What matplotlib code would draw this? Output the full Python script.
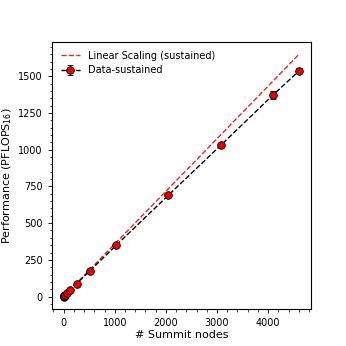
import numpy as np
import matplotlib
matplotlib.use("Agg")
from matplotlib import pyplot as plt
from matplotlib.ticker import AutoMinorLocator

# Summit node counts and sustained performance (PFLOPS, fp16)
nodes = [1, 2, 4, 8, 16, 32, 64, 128, 256, 512, 1024, 2048, 3072, 4096, 4608]
perf = [0.36, 0.71, 1.42, 2.84, 5.67, 11.3, 22.5, 44.6, 88.5, 175, 348, 690, 1030, 1373, 1538]
perf_err = [0.01, 0.01, 0.02, 0.05, 0.1, 0.2, 0.4, 0.8, 1.5, 3, 5, 8, 10, 30, 16]
per_node = 0.3585  # linear scaling from one node

linear = [per_node * n for n in nodes]

fig = plt.figure(figsize=(3.46, 3.46), dpi=100)
ax = fig.add_axes([0.150, 0.108, 0.749, 0.771])

ax.plot(nodes, linear, "--", color="#e8262a", lw=1.0, label="Linear Scaling (sustained)")
ax.errorbar(nodes, perf, yerr=perf_err, fmt="--o", color="black", lw=1.0,
            mfc="#e80000", mec="black", mew=0.6, ms=5.5, capsize=2, elinewidth=0.8,
            label="Data-sustained")

ax.set_yticks([0, 250, 500, 750, 1000, 1250, 1500])
ax.set_xticks([0, 1000, 2000, 3000, 4000])
ax.xaxis.set_minor_locator(AutoMinorLocator(5))
ax.yaxis.set_minor_locator(AutoMinorLocator(5))
ax.tick_params(labelsize=7, length=3, width=0.6)
ax.tick_params(which="minor", length=1.8, width=0.5)
for s in ax.spines.values():
    s.set_linewidth(0.8)

ax.set_xlabel("# Summit nodes", fontsize=8, labelpad=2)
ax.set_ylabel("Performance (PFLOPS$_{16}$)", fontsize=8, labelpad=3)
ax.legend(loc="upper left", frameon=False, fontsize=7)

plt.savefig("out.png", dpi=100)
